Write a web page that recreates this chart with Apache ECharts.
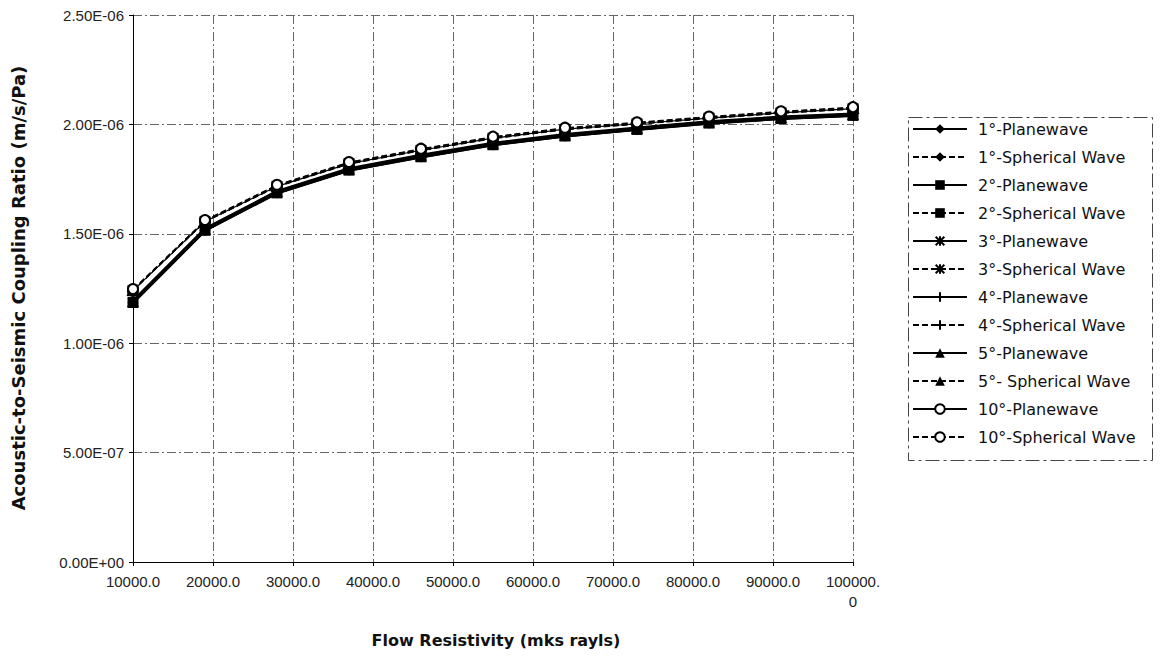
<!DOCTYPE html>
<html>
<head>
<meta charset="utf-8">
<script src="https://cdn.jsdelivr.net/npm/echarts@6/dist/echarts.min.js"></script>
<style>
  html, body { margin: 0; padding: 0; background: #fff; }
  #chart { width: 1160px; height: 656px; }
</style>
</head>
<body>
<div id="chart"></div>
<script>
// Flow resistivity sampled in 9000 mks rayl steps
const flowResistivity = [10000, 19000, 28000, 37000, 46000, 55000, 64000, 73000, 82000, 91000, 100000];

// Coupling ratio (m/s/Pa) per incidence angle, plane vs spherical wave
const plane1  = [1.185e-6, 1.515e-6, 1.686e-6, 1.790e-6, 1.851e-6, 1.906e-6, 1.946e-6, 1.976e-6, 2.005e-6, 2.026e-6, 2.040e-6];
const sph1    = [1.238e-6, 1.553e-6, 1.714e-6, 1.818e-6, 1.879e-6, 1.934e-6, 1.975e-6, 2.000e-6, 2.026e-6, 2.050e-6, 2.069e-6];
const plane2  = [1.186e-6, 1.516e-6, 1.687e-6, 1.791e-6, 1.852e-6, 1.907e-6, 1.947e-6, 1.977e-6, 2.006e-6, 2.027e-6, 2.041e-6];
const sph2    = [1.240e-6, 1.555e-6, 1.716e-6, 1.820e-6, 1.881e-6, 1.936e-6, 1.977e-6, 2.002e-6, 2.028e-6, 2.052e-6, 2.071e-6];
const plane3  = [1.188e-6, 1.518e-6, 1.689e-6, 1.793e-6, 1.854e-6, 1.909e-6, 1.949e-6, 1.979e-6, 2.008e-6, 2.029e-6, 2.043e-6];
const sph3    = [1.242e-6, 1.557e-6, 1.718e-6, 1.822e-6, 1.883e-6, 1.938e-6, 1.979e-6, 2.004e-6, 2.030e-6, 2.054e-6, 2.073e-6];
const plane4  = [1.190e-6, 1.520e-6, 1.691e-6, 1.795e-6, 1.856e-6, 1.911e-6, 1.951e-6, 1.981e-6, 2.010e-6, 2.031e-6, 2.045e-6];
const sph4    = [1.244e-6, 1.559e-6, 1.720e-6, 1.824e-6, 1.885e-6, 1.940e-6, 1.981e-6, 2.006e-6, 2.032e-6, 2.056e-6, 2.075e-6];
const plane5  = [1.193e-6, 1.523e-6, 1.694e-6, 1.798e-6, 1.859e-6, 1.914e-6, 1.954e-6, 1.984e-6, 2.013e-6, 2.034e-6, 2.048e-6];
const sph5    = [1.246e-6, 1.561e-6, 1.722e-6, 1.826e-6, 1.887e-6, 1.942e-6, 1.983e-6, 2.008e-6, 2.034e-6, 2.058e-6, 2.077e-6];
const plane10 = [1.240e-6, 1.556e-6, 1.717e-6, 1.821e-6, 1.882e-6, 1.937e-6, 1.978e-6, 2.003e-6, 2.029e-6, 2.053e-6, 2.072e-6];
const sph10   = [1.248e-6, 1.563e-6, 1.724e-6, 1.828e-6, 1.889e-6, 1.944e-6, 1.985e-6, 2.010e-6, 2.036e-6, 2.060e-6, 2.079e-6];

// Axis tick labels
const xTickLabels = ['10000.0', '20000.0', '30000.0', '40000.0', '50000.0', '60000.0', '70000.0', '80000.0', '90000.0', '100000.\n0'];
const yTickLabels = ['0.00E+00', '5.00E-07', '1.00E-06', '1.50E-06', '2.00E-06', '2.50E-06'];

const FONT = 'Liberation Sans, Arial, sans-serif';
const WIDE = 'DejaVu Sans, Verdana, sans-serif';
const asterisk = 'path://M0,-5L0,5M-4.5,-4.5L4.5,4.5M-4.5,4.5L4.5,-4.5M-5,0L5,0';
const plus = 'path://M0,-5L0,5M-5,0L5,0';

function pairs(ys) { return flowResistivity.map((x, i) => [x, ys[i]]); }

function makeSeries(name, ys, symbol, size, kind) {
  const isPlane = kind === 'plane';
  const open = symbol === 'emptyCircle';
  const strokeSym = symbol === asterisk || symbol === plus;
  return {
    name: name,
    type: 'line',
    data: pairs(ys),
    symbol: symbol,
    symbolSize: size,
    showSymbol: true,
    animation: false,
    lineStyle: {
      color: '#000',
      width: isPlane ? (open ? 1.2 : 2.8) : 1,
      type: isPlane ? 'solid' : [6, 3]
    },
    itemStyle: {
      color: '#000',
      borderColor: '#000',
      borderWidth: open ? 2.4 : (strokeSym ? 2 : 0)
    },
    emphasis: { disabled: true }
  };
}

const series = [
  makeSeries('1°-Planewave', plane1, 'diamond', 11, 'plane'),
  makeSeries('1°-Spherical Wave', sph1, 'diamond', 11, 'sph'),
  makeSeries('2°-Planewave', plane2, 'rect', 11, 'plane'),
  makeSeries('2°-Spherical Wave', sph2, 'rect', 11, 'sph'),
  makeSeries('3°-Planewave', plane3, asterisk, 10, 'plane'),
  makeSeries('3°-Spherical Wave', sph3, asterisk, 10, 'sph'),
  makeSeries('4°-Planewave', plane4, plus, 10, 'plane'),
  makeSeries('4°-Spherical Wave', sph4, plus, 10, 'sph'),
  makeSeries('5°-Planewave', plane5, 'triangle', 12, 'plane'),
  makeSeries('5°- Spherical Wave', sph5, 'triangle', 13, 'sph'),
  makeSeries('10°-Planewave', plane10, 'emptyCircle', 10, 'plane'),
  makeSeries('10°-Spherical Wave', sph10, 'emptyCircle', 10, 'sph')
];

const gridDash = { color: '#666', width: 1, type: [9, 3, 2, 3] };

const chart = echarts.init(document.getElementById('chart'), null, { renderer: 'svg' });
chart.setOption({
  backgroundColor: '#fff',
  animation: false,
  textStyle: { fontFamily: FONT },
  grid: { left: 133, right: 307, top: 15, bottom: 94, containLabel: false },
  xAxis: {
    type: 'value',
    min: 10000,
    max: 100000,
    interval: 10000,
    axisLine: { show: true, lineStyle: { color: '#000', width: 1 } },
    axisTick: { show: true, length: 4, lineStyle: { color: '#000' } },
    splitLine: { show: true, lineStyle: gridDash },
    axisLabel: {
      color: '#222',
      fontSize: 15,
      fontFamily: FONT,
      margin: 9,
      lineHeight: 20,
      formatter: (v) => xTickLabels[Math.round((v - 10000) / 10000)]
    }
  },
  yAxis: {
    type: 'value',
    min: 0,
    max: 2.5e-6,
    interval: 5e-7,
    axisLine: { show: true, lineStyle: { color: '#000', width: 1 } },
    axisTick: { show: true, length: 4, lineStyle: { color: '#000' } },
    splitLine: { show: true, lineStyle: gridDash },
    axisLabel: {
      color: '#222',
      fontSize: 15,
      fontFamily: FONT,
      margin: 9,
      formatter: (v) => yTickLabels[Math.round(v / 5e-7)]
    }
  },
  legend: {
    orient: 'vertical',
    left: 912,
    top: 121,
    itemWidth: 54,
    itemHeight: 12,
    itemGap: 12,
    padding: 0,
    selectedMode: false,
    textStyle: { fontSize: 16, lineHeight: 16, color: '#111', fontFamily: WIDE, padding: [0, 0, 0, 6] },
    data: series.map(s => s.name)
  },
  graphic: [
    {
      type: 'rect',
      shape: { x: 908.5, y: 117.5, width: 244, height: 343 },
      style: { fill: 'none', stroke: '#444', lineWidth: 1, lineDash: [14, 4, 3, 4] },
      silent: true
    },
    {
      type: 'text',
      style: {
        text: 'Flow Resistivity (mks rayls)',
        font: 'bold 16px ' + WIDE,
        fill: '#111',
        textAlign: 'center',
        textVerticalAlign: 'middle'
      },
      position: [496, 640]
    },
    {
      type: 'text',
      rotation: Math.PI / 2,
      style: {
        text: 'Acoustic-to-Seismic Coupling Ratio (m/s/Pa)',
        font: 'bold 18px ' + WIDE,
        fill: '#111',
        textAlign: 'center',
        textVerticalAlign: 'middle'
      },
      position: [18, 288]
    }
  ],
  series: series
});
</script>
</body>
</html>
